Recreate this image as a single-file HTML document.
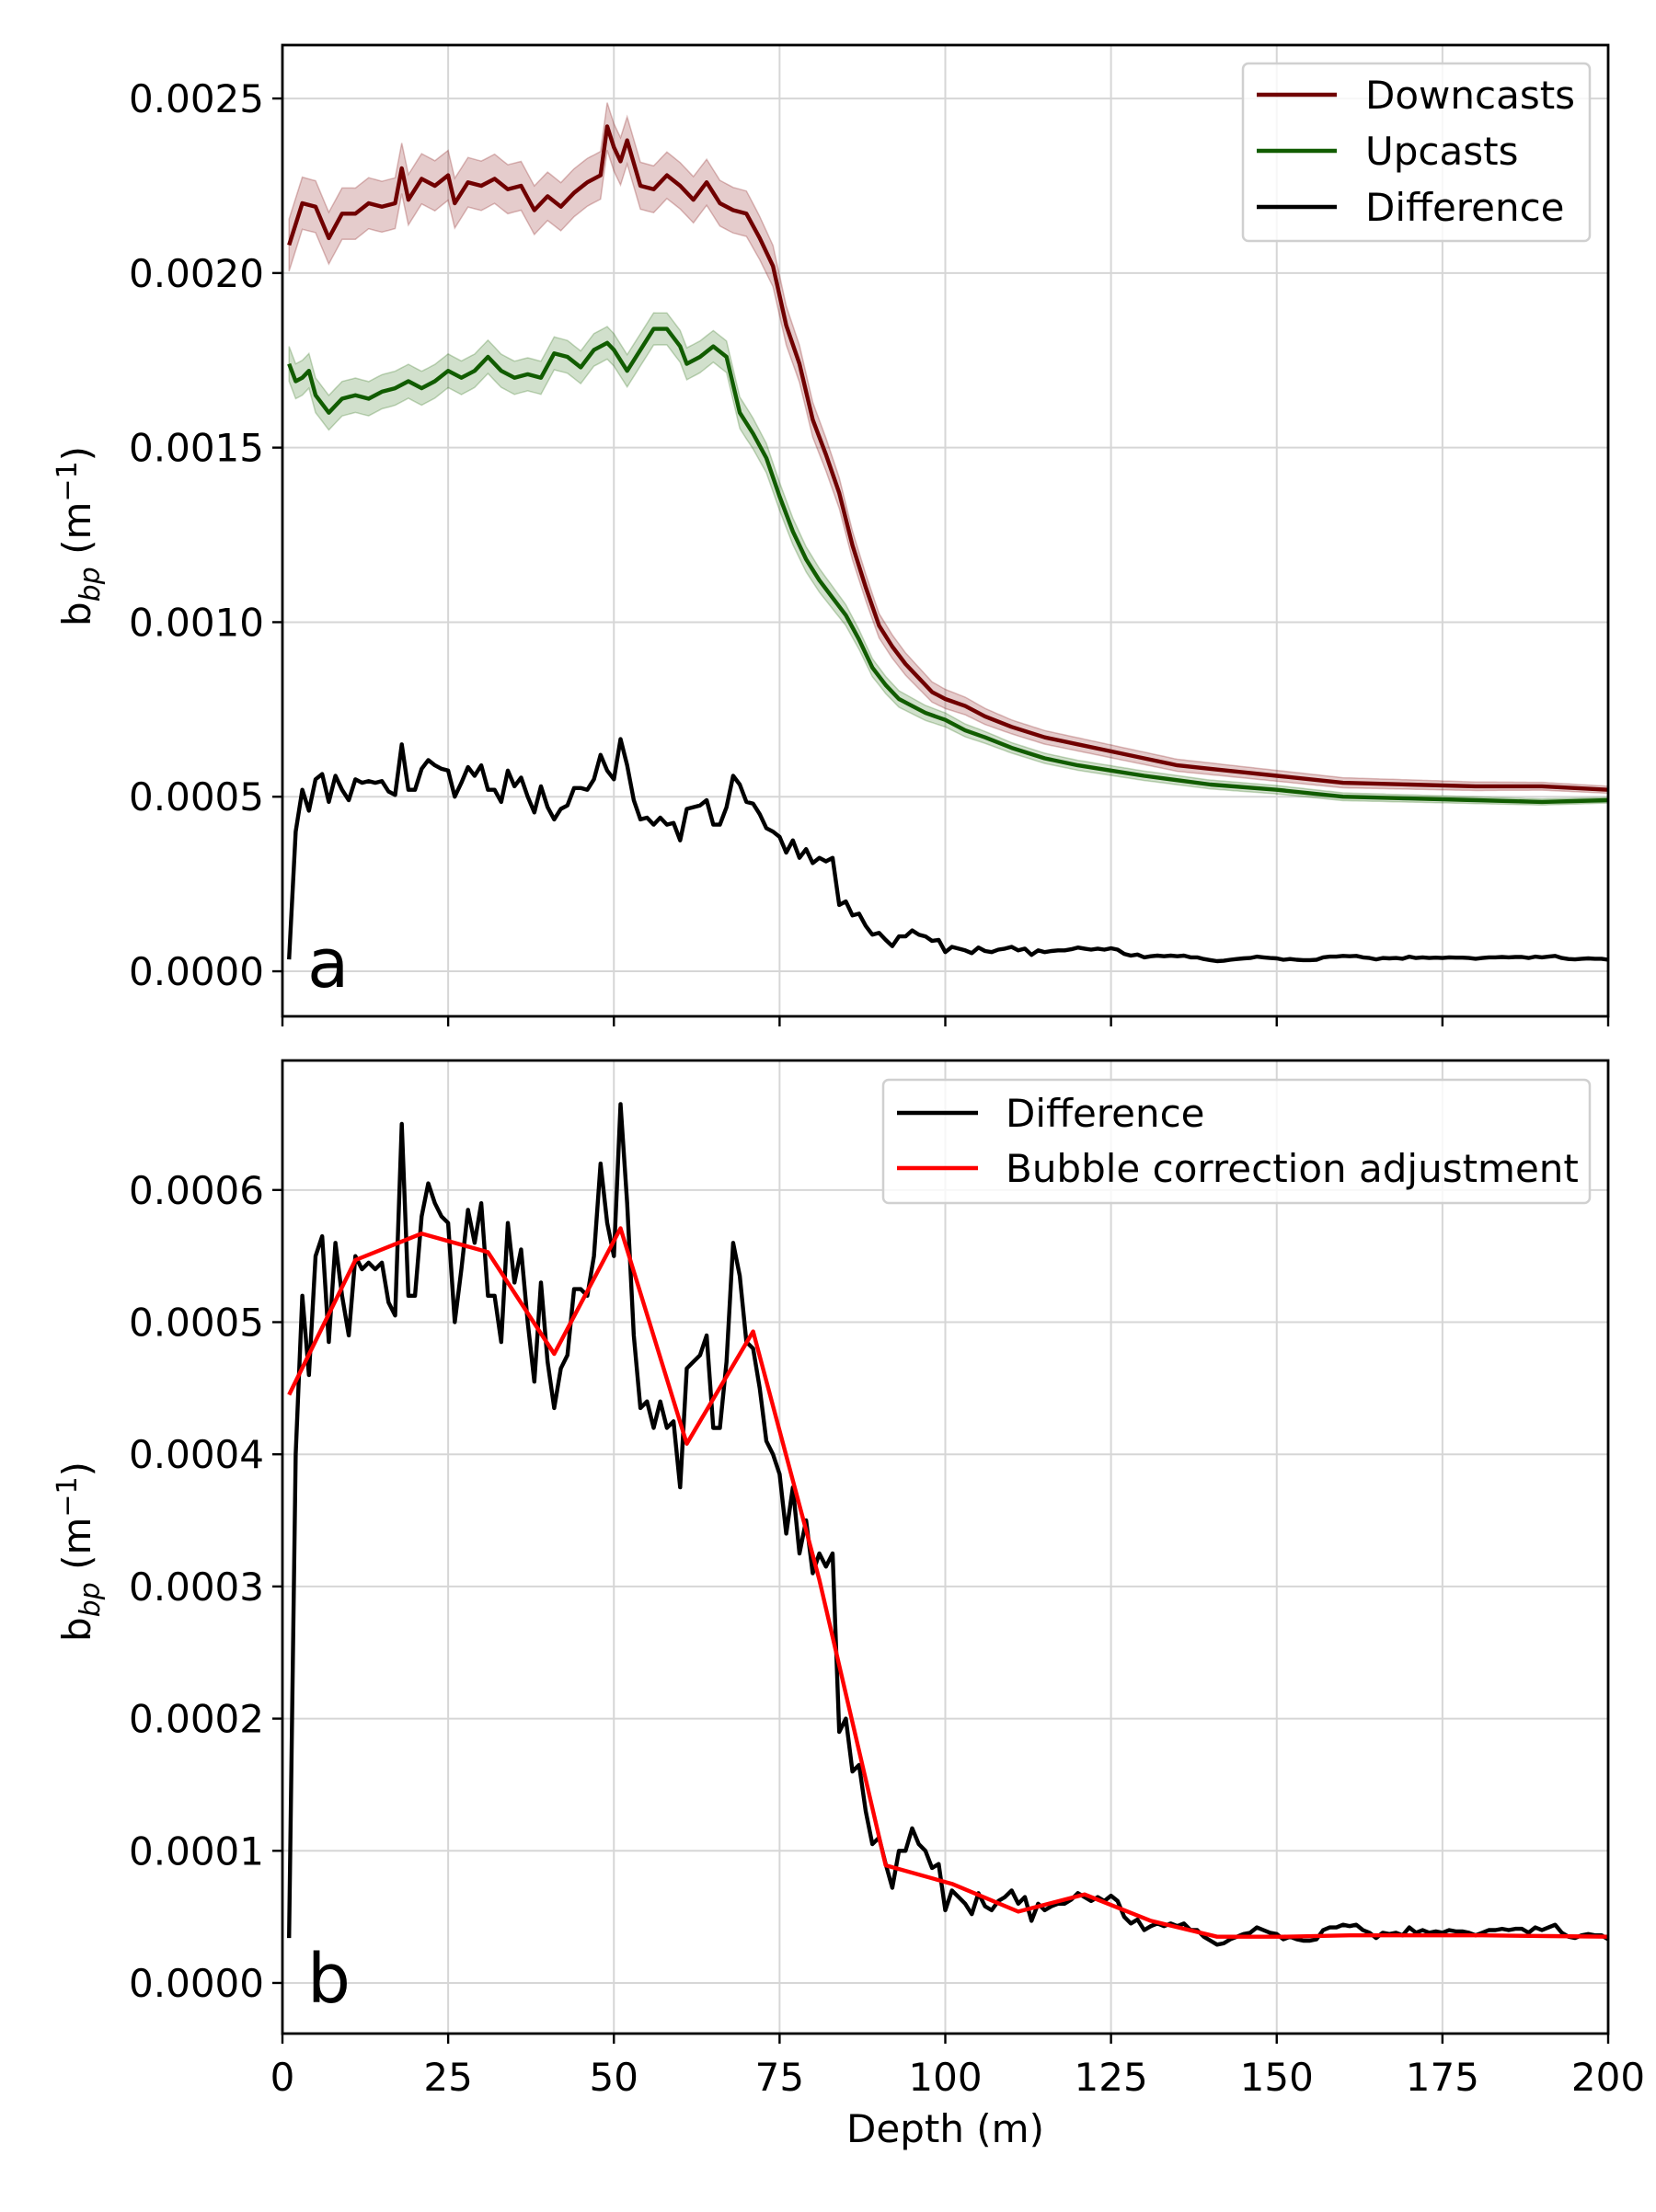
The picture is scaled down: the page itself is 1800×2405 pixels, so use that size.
<!DOCTYPE html>
<html><head><meta charset="utf-8"><style>
html,body{margin:0;padding:0;background:#fff;}
svg text{font-family:"DejaVu Sans","Liberation Sans",sans-serif;fill:#000;}
</style></head>
<body>
<svg id="fig" width="1800" height="2400" viewBox="0 0 1800 2400" xmlns="http://www.w3.org/2000/svg">
<rect width="1800" height="2400" fill="#fff"/>
<g id="panelA"></g>
<g id="panelB"></g>
</svg>
<script>
// ---- data ----
const diffDepths = [];
for (let d = 1; d <= 200; d++) diffDepths.push(d);
const diffVals = [0.34,4.0,5.2,4.6,5.5,5.65,4.85,5.6,5.2,4.9,5.5,5.4,5.45,5.4,5.45,5.15,5.05,6.5,5.2,5.2,
5.8,6.05,5.9,5.8,5.75,5.0,5.4,5.85,5.6,5.9,5.2,5.2,4.85,5.75,5.3,5.55,5.0,4.55,5.3,4.7,
4.35,4.65,4.75,5.25,5.25,5.2,5.5,6.2,5.75,5.5,6.65,5.9,4.9,4.35,4.4,4.2,4.4,4.2,4.25,3.75,
4.65,4.7,4.75,4.9,4.2,4.2,4.7,5.6,5.35,4.85,4.8,4.5,4.1,4.0,3.85,3.4,3.75,3.25,3.5,3.1,
3.25,3.15,3.25,1.9,2.0,1.6,1.65,1.3,1.05,1.1,0.9,0.72,1.0,1.0,1.17,1.05,1.0,0.87,0.9,0.55,
0.7,0.65,0.6,0.52,0.68,0.58,0.55,0.62,0.65,0.7,0.6,0.65,0.47,0.6,0.55,0.58,0.6,0.6,0.63,0.68,
0.65,0.62,0.65,0.62,0.66,0.62,0.5,0.45,0.48,0.4,0.43,0.45,0.43,0.45,0.43,0.45,0.4,0.4,0.35,0.32,
0.29,0.3,0.33,0.35,0.37,0.38,0.42,0.4,0.38,0.37,0.33,0.35,0.33,0.32,0.32,0.33,0.4,0.42,0.42,0.44,
0.43,0.44,0.4,0.38,0.34,0.38,0.37,0.38,0.36,0.42,0.38,0.4,0.38,0.39,0.38,0.4,0.39,0.39,0.38,0.36,
0.38,0.4,0.4,0.41,0.4,0.41,0.41,0.38,0.42,0.4,0.42,0.44,0.38,0.35,0.34,0.36,0.37,0.36,0.36,0.33]; // x1e-4

const adjDepths = [1,11,21,31,41,51,61,71,81,91,101,111,121,131,141,151,161,171,181,191,200];
const adjVals = [4.45,5.47,5.67,5.53,4.76,5.71,4.08,4.93,3.05,0.89,0.75,0.54,0.67,0.47,0.35,0.35,0.36,0.36,0.36,0.355,0.35]; // x1e-4

const downDepths = [1,3,5,7,9,11,13,15,17,18,19,21,23,25,26,28,30,32,34,36,38,40,42,44,46,48,49,50,51,52,54,56,58,60,62,64,66,68,70,72,74,76,78,80,82,84,86,88,90,92,94,96,98,100,103,106,110,115,120,125,130,135,140,145,150,160,170,180,190,200];
const downVals = [2.08,2.2,2.19,2.1,2.17,2.17,2.2,2.19,2.2,2.3,2.21,2.27,2.25,2.28,2.2,2.26,2.25,2.27,2.24,2.25,2.18,2.22,2.19,2.23,2.26,2.28,2.42,2.36,2.32,2.38,2.25,2.24,2.28,2.25,2.21,2.26,2.2,2.18,2.17,2.1,2.02,1.85,1.74,1.58,1.48,1.37,1.22,1.1,0.99,0.93,0.88,0.84,0.8,0.78,0.76,0.73,0.7,0.67,0.65,0.63,0.61,0.59,0.58,0.57,0.56,0.54,0.535,0.53,0.53,0.52]; // x1e-3

const upDepths = [1,2,3,4,5,7,9,11,13,15,17,19,21,23,25,27,29,31,33,35,37,39,41,43,45,47,49,50,52,54,56,58,60,61,63,65,67,69,71,73,75,77,79,81,83,85,87,89,91,93,95,97,100,103,106,110,115,120,125,130,140,150,160,170,180,190,200];
const upVals = [1.74,1.69,1.7,1.72,1.65,1.6,1.64,1.65,1.64,1.66,1.67,1.69,1.67,1.69,1.72,1.7,1.72,1.76,1.72,1.7,1.71,1.7,1.77,1.76,1.73,1.78,1.8,1.78,1.72,1.78,1.84,1.84,1.79,1.74,1.76,1.79,1.76,1.6,1.54,1.47,1.36,1.26,1.18,1.12,1.07,1.02,0.95,0.87,0.82,0.78,0.76,0.74,0.72,0.69,0.67,0.64,0.61,0.59,0.575,0.56,0.535,0.52,0.5,0.495,0.49,0.485,0.49]; // x1e-3

const errDepths = [0,70,90,110,200];
const downErr = [0.075,0.065,0.035,0.02,0.01]; // x1e-3
const upErr = [0.05,0.045,0.025,0.015,0.008];   // x1e-3

const xTicks = [0,25,50,75,100,125,150,175,200];
const yTicksA = [0,0.0005,0.001,0.0015,0.002,0.0025];
const yLabelsA = ["0.0000","0.0005","0.0010","0.0015","0.0020","0.0025"];
const yTicksB = [0,0.0001,0.0002,0.0003,0.0004,0.0005,0.0006];
const yLabelsB = ["0.0000","0.0001","0.0002","0.0003","0.0004","0.0005","0.0006"];

// ---- layout ----
const L = 307, R = 1748;
const A = {top:49, bot:1105, ymin:-0.000129, ymax:0.002653};
const B = {top:1153, bot:2211, ymin:-0.0000383, ymax:0.000698};
const FS = 42;
const LW = 4.4;
const NS = "http://www.w3.org/2000/svg";
function xs(d){ return L + (d-0)/(200-0)*(R-L); }
function ysA(v){ return A.bot - (v-A.ymin)/(A.ymax-A.ymin)*(A.bot-A.top); }
function ysB(v){ return B.bot - (v-B.ymin)/(B.ymax-B.ymin)*(B.bot-B.top); }
function mk(parent, tag, attrs){
  const e = document.createElementNS(NS, tag);
  for (const k in attrs) e.setAttribute(k, attrs[k]);
  parent.appendChild(e); return e;
}
function interp(xa, ya, x){
  for (let i=0;i<xa.length-1;i++){ if (x>=xa[i] && x<=xa[i+1]) return ya[i]+(ya[i+1]-ya[i])*(x-xa[i])/(xa[i+1]-xa[i]); }
  return ya[ya.length-1];
}
function pathOf(ds, vs, scale, ys){
  return ds.map((d,i)=>(i?'L':'M')+xs(d).toFixed(1)+','+ys(vs[i]*scale).toFixed(1)).join(' ');
}

function axes(g, P, ys, yt){
  xTicks.forEach(t=>{
    const gl = mk(g,'line',{x1:xs(t),x2:xs(t),y1:P.top,y2:P.bot,stroke:'#d6d6d6','stroke-width':2});
    
    
  });
  yt.forEach(t=>{
    const gl = mk(g,'line',{x1:L,x2:R,y1:ys(t),y2:ys(t),stroke:'#d6d6d6','stroke-width':2});
    
    
  });
}
function frame(g, P, ys, yt, yl, showXLabels){
  const fr = mk(g,'rect',{x:L,y:P.top,width:R-L,height:P.bot-P.top,fill:'none',stroke:'#000','stroke-width':2.8});
  
  
  xTicks.forEach(t=>{
    const tk = mk(g,'line',{x1:xs(t),x2:xs(t),y1:P.bot,y2:P.bot+11,stroke:'#000','stroke-width':2.4});
    
    
    if (showXLabels){
      const tx = mk(g,'text',{x:xs(t),y:2273,'font-size':FS,'text-anchor':'middle'});
      tx.textContent = String(t);
      
      
    }
  });
  yt.forEach((t,i)=>{
    const tk = mk(g,'line',{x1:L-11,x2:L,y1:ys(t),y2:ys(t),stroke:'#000','stroke-width':2.4});
    
    
    const tx = mk(g,'text',{x:L-20,y:ys(t)+15,'font-size':FS,'text-anchor':'end'});
    tx.textContent = yl[i];
    
    
  });
}
function ylabel(g, cy){
  const t = mk(g,'text',{x:0,y:0,'font-size':FS,'text-anchor':'middle',transform:'translate(98,'+cy+') rotate(-90)'});
  t.innerHTML = 'b<tspan font-size="30" font-style="italic" dy="10">bp</tspan><tspan dy="-10"> (m</tspan><tspan font-size="30" dy="-15">−1</tspan><tspan dy="15">)</tspan>';
  
  
}
function band(g, ds, vs, errD, errV, color, name){
  const fine = [];
  for (let d=ds[0]; d<=ds[ds.length-1]; d+=0.5) fine.push(d);
  const up = fine.map(d=>[xs(d), ysA((interp(ds,vs,d)+interp(errD,errV,d))*1e-3)]);
  const lo = fine.map(d=>[xs(d), ysA((interp(ds,vs,d)-interp(errD,errV,d))*1e-3)]).reverse();
  const pts = up.concat(lo).map(p=>p[0].toFixed(1)+','+p[1].toFixed(1)).join(' ');
  const p = mk(g,'polygon',{points:pts,fill:color,'fill-opacity':0.2,stroke:color,'stroke-opacity':0.25,'stroke-width':1.5});
  
  
}
function legendBox(g,x,y,w,h){
  const r = mk(g,'rect',{x:x,y:y,width:w,height:h,rx:6,fill:'#fff','fill-opacity':0.8,stroke:'#d0d0d0','stroke-width':2.5});
  
  
}
function legendEntry(g,x1,x2,tx,y,color,label,name){
  const e = mk(g,'g',{});
  
  
  mk(e,'line',{x1:x1,x2:x2,y1:y,y2:y,stroke:color,'stroke-width':LW});
  const t = mk(e,'text',{x:tx,y:y+15,'font-size':FS});
  t.textContent = label;
}

// ---- Panel A ----
const gA = document.getElementById('panelA');
axes(gA, A, ysA, yTicksA);
band(gA, downDepths, downVals, errDepths, downErr, '#7b0000', 'downcasts-band');
band(gA, upDepths, upVals, errDepths, upErr, '#1a6400', 'upcasts-band');
let ln = mk(gA,'path',{d:pathOf(downDepths,downVals,1e-3,ysA),fill:'none',stroke:'#700000','stroke-width':LW,'stroke-linejoin':'round'});


ln = mk(gA,'path',{d:pathOf(upDepths,upVals,1e-3,ysA),fill:'none',stroke:'#115c00','stroke-width':LW,'stroke-linejoin':'round'});


ln = mk(gA,'path',{d:pathOf(diffDepths,diffVals,1e-4,ysA),fill:'none',stroke:'#000','stroke-width':LW,'stroke-linejoin':'round'});


frame(gA, A, ysA, yTicksA, yLabelsA, false);
ylabel(gA, 583);
let lt = mk(gA,'text',{x:334,y:1073,'font-size':74});
lt.textContent = 'a';


legendBox(gA,1351,69,377,193);
legendEntry(gA,1366,1453,1484,103,'#700000','Downcasts','legend-entry-downcasts');
legendEntry(gA,1366,1453,1484,164,'#115c00','Upcasts','legend-entry-upcasts');
legendEntry(gA,1366,1453,1484,225,'#000','Difference','legend-entry-difference');

// ---- Panel B ----
const gB = document.getElementById('panelB');
axes(gB, B, ysB, yTicksB);
ln = mk(gB,'path',{d:pathOf(diffDepths,diffVals,1e-4,ysB),fill:'none',stroke:'#000','stroke-width':LW,'stroke-linejoin':'round'});


ln = mk(gB,'path',{d:pathOf(adjDepths,adjVals,1e-4,ysB),fill:'none',stroke:'#ff0000','stroke-width':LW,'stroke-linejoin':'round'});


frame(gB, B, ysB, yTicksB, yLabelsB, true);
ylabel(gB, 1687);
lt = mk(gB,'text',{x:334,y:2177,'font-size':74});
lt.textContent = 'b';


legendBox(gB,960,1174,768,134);
legendEntry(gB,975,1063,1093,1210,'#000','Difference','legend-entry-difference');
legendEntry(gB,975,1063,1093,1270,'#ff0000','Bubble correction adjustment','legend-entry-bubble-correction');
const xl = mk(gB,'text',{x:(L+R)/2,y:2329,'font-size':FS,'text-anchor':'middle'});
xl.textContent = 'Depth (m)';


</script>
</body></html>
